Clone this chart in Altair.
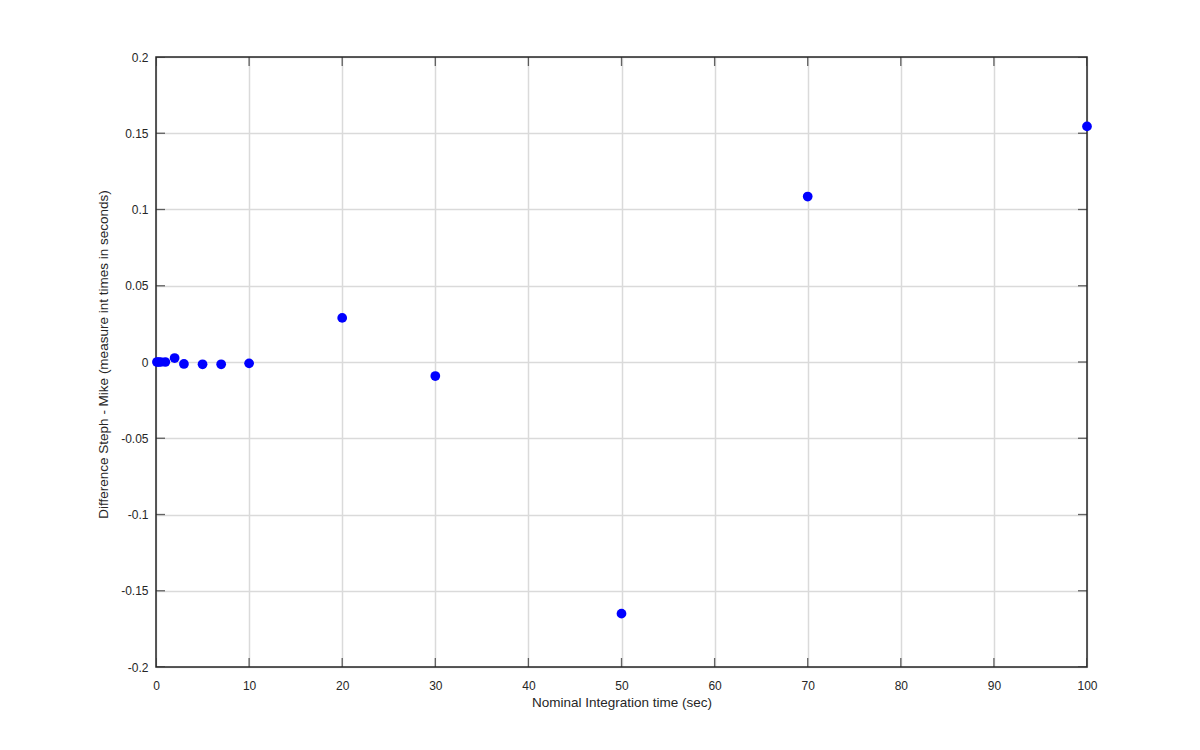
import altair as alt
import pandas as pd

nominal_time = [0.1, 0.25, 0.5, 1, 2, 3, 5, 7, 10, 20, 30, 50, 70, 100]
difference = [0.0, 0.0, 0.0, 0.0, 0.0026, -0.0013, -0.0015, -0.0015, -0.0009,
              0.0289, -0.0092, -0.165, 0.1085, 0.1545]
x_ticks = [0, 10, 20, 30, 40, 50, 60, 70, 80, 90, 100]
y_ticks = [-0.2, -0.15, -0.1, -0.05, 0, 0.05, 0.1, 0.15, 0.2]

df = pd.DataFrame({"t": nominal_time, "d": difference})
xt = pd.DataFrame({"v": x_ticks})
yt = pd.DataFrame({"v": y_ticks})

W, H = 931, 610
FONT = "Liberation Sans"
DARK = "#262626"
GRID = "#dadada"

xscale = alt.Scale(domain=[0, 100], nice=False, zero=False)
yscale = alt.Scale(domain=[-0.2, 0.2], nice=False, zero=False)

label_expr = "datum.value < 0 ? '-' + format(-datum.value, '~g') : format(datum.value, '~g')"

points = alt.Chart(df).mark_point(filled=True, color="#0000ff", size=95, opacity=1, clip=False).encode(
    x=alt.X("t:Q", scale=xscale,
            axis=alt.Axis(values=x_ticks, title="Nominal Integration time (sec)", grid=True,
                          gridColor=GRID, gridWidth=1.5, domain=False, ticks=False,
                          labelFlush=False, labelExpr=label_expr,
                          labelPadding=13, labelFontSize=12, labelColor=DARK, labelFont=FONT,
                          titleFont=FONT, titleFontSize=13.5, titleFontWeight="normal",
                          titleColor=DARK, titlePadding=4)),
    y=alt.Y("d:Q", scale=yscale,
            axis=alt.Axis(values=y_ticks, title="Difference Steph - Mike (measure int times in seconds)",
                          grid=True, gridColor=GRID, gridWidth=1.5, domain=False, ticks=False,
                          labelFlush=False, labelExpr=label_expr,
                          labelPadding=8, labelFontSize=12, labelColor=DARK, labelFont=FONT,
                          titleFont=FONT, titleFontSize=13.5, titleFontWeight="normal",
                          titleColor=DARK, titlePadding=10, titleY=H / 2 - 8)),
)

tick_x_bottom = alt.Chart(xt).mark_tick(color=DARK, size=18, thickness=1.3, clip=True).encode(
    x=alt.X("v:Q", scale=xscale), y=alt.value(H))
tick_x_top = alt.Chart(xt).mark_tick(color=DARK, size=18, thickness=1.3, clip=True).encode(
    x=alt.X("v:Q", scale=xscale), y=alt.value(0))
tick_y_left = alt.Chart(yt).mark_tick(color=DARK, size=18, thickness=1.3, clip=True, orient="horizontal").encode(
    y=alt.Y("v:Q", scale=yscale), x=alt.value(0))
tick_y_right = alt.Chart(yt).mark_tick(color=DARK, size=18, thickness=1.3, clip=True, orient="horizontal").encode(
    y=alt.Y("v:Q", scale=yscale), x=alt.value(W))

frame = alt.Chart(pd.DataFrame({"a": [0]})).mark_rect(
    fill=None, fillOpacity=0, stroke=DARK, strokeWidth=1.5).encode(
    x=alt.value(0), x2=alt.value(W), y=alt.value(0), y2=alt.value(H))

chart = alt.layer(tick_x_bottom, tick_x_top, tick_y_left, tick_y_right, frame, points).properties(
    width=W, height=H,
    autosize=alt.AutoSizeParams(type="none"),
    padding={"left": 148, "top": 49, "right": 100, "bottom": 70},
).configure_view(strokeWidth=0).configure(background="white")

chart.save("out.html", embed_options={"renderer": "svg", "actions": False})
